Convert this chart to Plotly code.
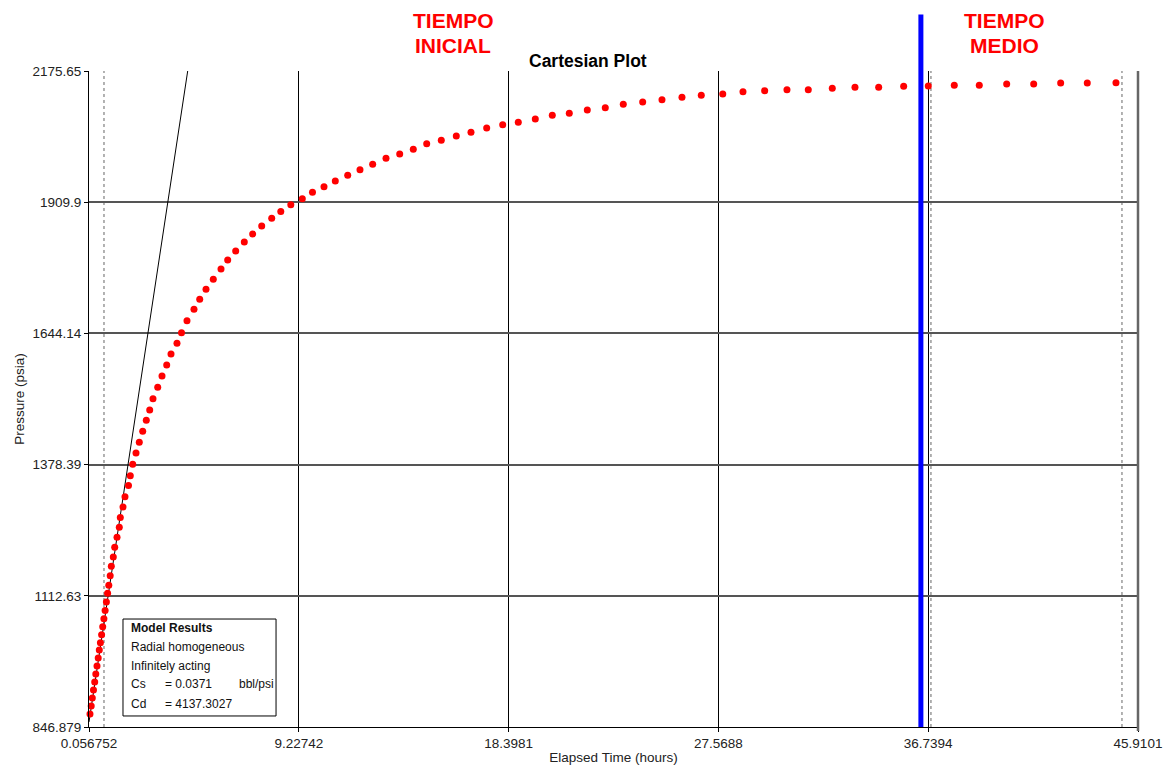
import plotly.graph_objects as go

# ---- data ----
time_h = [0.100, 0.153, 0.201, 0.253, 0.306, 0.354, 0.407, 0.459, 0.507, 0.555,
          0.608, 0.656, 0.708, 0.761, 0.817, 0.870, 0.922, 0.983, 1.032, 1.119,
          1.180, 1.281, 1.381, 1.425, 1.543, 1.630, 1.783, 1.862, 1.967, 2.111,
          2.255, 2.404, 2.561, 2.710, 2.854, 3.060, 3.248, 3.453, 3.641, 3.903,
          4.100, 4.340, 4.646, 4.896, 5.171, 5.490, 5.827, 6.119, 6.469, 6.845,
          7.212, 7.606, 8.043, 8.440, 8.878, 9.380, 9.826, 10.329, 10.823, 11.365,
          11.902, 12.457, 13.039, 13.638, 14.232, 14.818, 15.456, 16.112, 16.754, 17.440,
          18.140, 18.821, 19.565, 20.308, 21.051, 21.838, 22.624, 23.411, 24.259, 25.103,
          25.977, 26.820, 27.760, 28.643, 29.592, 30.566, 31.497, 32.546, 33.539, 34.575,
          35.667, 36.743, 37.879, 38.972, 40.170, 41.350, 42.530, 43.693, 44.947]
pressure_psia = [873.2, 889.4, 905.6, 921.8, 938.0, 954.2, 970.4, 986.6, 1002.9, 1017.6,
                 1033.8, 1050.1, 1066.3, 1082.9, 1100.1, 1117.7, 1133.9, 1153.4, 1172.4, 1191.3,
                 1210.9, 1231.2, 1251.4, 1271.3, 1292.5, 1313.4, 1336.1, 1355.9, 1379.2, 1401.9,
                 1423.6, 1445.9, 1468.2, 1489.0, 1511.9, 1535.0, 1557.9, 1580.2, 1602.4, 1624.1,
                 1645.6, 1669.9, 1693.0, 1713.2, 1733.5, 1753.8, 1774.6, 1792.9, 1811.1, 1829.3,
                 1845.5, 1861.7, 1877.5, 1891.1, 1904.9, 1917.0, 1930.2, 1941.3, 1952.9, 1964.4,
                 1975.8, 1986.7, 1998.9, 2007.6, 2017.1, 2028.4, 2035.3, 2044.0, 2051.5, 2060.2,
                 2066.9, 2071.8, 2078.5, 2086.0, 2090.0, 2096.7, 2101.4, 2108.2, 2112.9, 2117.6,
                 2122.4, 2126.5, 2129.1, 2133.8, 2135.8, 2137.8, 2137.8, 2140.7, 2142.7, 2142.7,
                 2144.7, 2145.3, 2146.7, 2146.7, 2149.4, 2149.4, 2151.4, 2151.4, 2152.0]

# unit-slope (wellbore storage) line
storage_t = [0.056752, 4.371]
storage_p = [857.1, 2175.65]

x_ticks = [0.056752, 9.22742, 18.3981, 27.5688, 36.7394, 45.9101]
x_tick_labels = ["0.056752", "9.22742", "18.3981", "27.5688", "36.7394", "45.9101"]
y_ticks = [846.879, 1112.63, 1378.39, 1644.14, 1909.9, 2175.65]
y_tick_labels = ["846.879", "1112.63", "1378.39", "1644.14", "1909.9", "2175.65"]

dotted_t = [0.712, 36.86, 45.21]
blue_t = 36.42

FONT = "Liberation Sans, Arial, sans-serif"

fig = go.Figure()
fig.add_trace(go.Scatter(x=storage_t, y=storage_p, mode="lines",
                         line=dict(color="black", width=1), hoverinfo="skip"))
fig.add_trace(go.Scatter(x=time_h, y=pressure_psia, mode="markers",
                         marker=dict(color="#ff0000", size=7), cliponaxis=False))

for t in dotted_t:
    fig.add_shape(type="line", xref="x", yref="paper", x0=t, x1=t, y0=0, y1=1,
                  line=dict(color="#666666", width=1, dash="dot"), layer="below")

fig.add_shape(type="line", xref="x", yref="paper", x0=blue_t, x1=blue_t, y0=0, y1=1.086,
              line=dict(color="#0000ff", width=5))

# Model results box
fig.add_shape(type="rect", xref="paper", yref="paper", x0=0.0324, x1=0.1783, y0=0.0168, y1=0.1646,
              line=dict(color="black", width=1), fillcolor="white", layer="above")

ann = []
def txt(x, y, s, size=12, bold=False, color="#111111", xanchor="left"):
    ann.append(dict(xref="paper", yref="paper", x=x, y=y, text=("<b>%s</b>" % s) if bold else s,
                    showarrow=False, xanchor=xanchor, yanchor="middle",
                    font=dict(family=FONT, size=size, color=color)))

txt(0.0381, 0.1509, "Model Results", bold=True)
txt(0.0381, 0.1220, "Radial homogeneous")
txt(0.0381, 0.0930, "Infinitely acting")
txt(0.0381, 0.0655, "Cs")
txt(0.0705, 0.0655, "= 0.0371")
txt(0.1411, 0.0655, "bbl/psi")
txt(0.0381, 0.0351, "Cd")
txt(0.0705, 0.0351, "= 4137.3027")

txt(0.4757, 1.0152, "Cartesian Plot", size=17.5, bold=True, color="black", xanchor="center")
txt(0.347, 1.0777, "TIEMPO", size=21, bold=True, color="#ff0000", xanchor="center")
txt(0.347, 1.0396, "INICIAL", size=21, bold=True, color="#ff0000", xanchor="center")
txt(0.8732, 1.0777, "TIEMPO", size=21, bold=True, color="#ff0000", xanchor="center")
txt(0.8732, 1.0396, "MEDIO", size=21, bold=True, color="#ff0000", xanchor="center")

fig.update_layout(
    width=1167, height=759, autosize=False,
    margin=dict(l=81, r=37, t=63, b=40, autoexpand=False),
    paper_bgcolor="white", plot_bgcolor="white",
    showlegend=False,
    annotations=ann,
    font=dict(family=FONT, size=13, color="#222222"),
)
fig.update_xaxes(range=[0.056752, 45.9101], tickvals=x_ticks, ticktext=x_tick_labels,
                 showgrid=True, gridcolor="black", gridwidth=1, zeroline=False,
                 showline=True, linecolor="black", linewidth=1, mirror=False,
                 ticks="outside", ticklen=4, tickcolor="black", automargin=False,
                 tickfont=dict(family=FONT, size=13.5, color="#222222"),
                 title=dict(text="Elapsed Time (hours)", standoff=2,
                            font=dict(family=FONT, size=13.5, color="#222222")))
fig.update_yaxes(range=[846.879, 2175.65], tickvals=y_ticks, ticktext=y_tick_labels,
                 showgrid=True, gridcolor="#555555", gridwidth=1.5, zeroline=False,
                 showline=True, linecolor="black", linewidth=1, automargin=False,
                 ticks="outside", ticklen=4, tickcolor="black",
                 tickfont=dict(family=FONT, size=13.5, color="#222222"),
                 title=dict(text="Pressure (psia)", standoff=4,
                            font=dict(family=FONT, size=13.5, color="#222222")))
# right border
fig.add_shape(type="line", xref="paper", yref="paper", x0=1, x1=1, y0=-0.006, y1=1,
              line=dict(color="#666666", width=2.5))

fig.write_html("out.html")
